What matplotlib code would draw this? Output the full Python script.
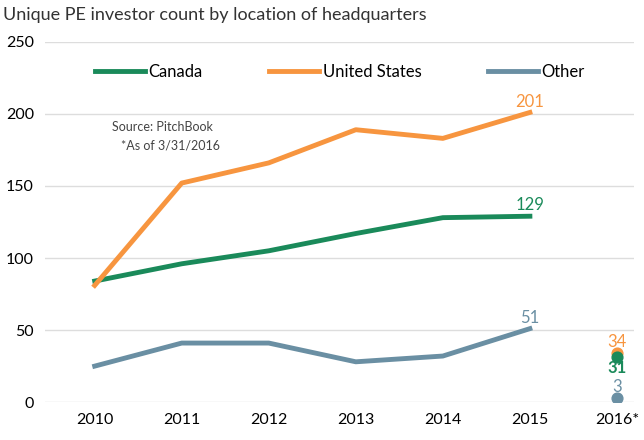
import matplotlib
matplotlib.use("Agg")
import matplotlib.pyplot as plt

years = [2010, 2011, 2012, 2013, 2014, 2015]
canada = [84, 96, 105, 117, 128, 129]
us = [81, 152, 166, 189, 183, 201]
other = [25, 41, 41, 28, 32, 51]
ytd_2016 = {"Canada": 31, "United States": 34, "Other": 3}
xlabels = ["2010", "2011", "2012", "2013", "2014", "2015", "2016*"]

cg, co, cb = "#1a8a5a", "#f7953f", "#6a8fa3"
plt.rcParams['font.family'] = ['Lato', 'DejaVu Sans']
fig = plt.figure(figsize=(6.44, 4.4), dpi=100)
ax = fig.add_axes([0.07, 0.086, 0.915, 0.819])
ax.plot(years, canada, color=cg, lw=3.5, label="Canada")
ax.plot(years, us, color=co, lw=3.5, label="United States")
ax.plot(years, other, color=cb, lw=3.5, label="Other")
ax.scatter([2016], [ytd_2016["United States"]], color=co, s=60, zorder=3)
ax.scatter([2016], [ytd_2016["Canada"]], color=cg, s=60, zorder=3)
ax.scatter([2016], [ytd_2016["Other"]], color=cb, s=60, zorder=3)
ax.text(2015, canada[-1] + 2, str(canada[-1]), color=cg, fontsize=12, ha="center", va="bottom")
ax.text(2015, us[-1] + 2, str(us[-1]), color=co, fontsize=12, ha="center", va="bottom")
ax.text(2015, other[-1] + 2, str(other[-1]), color=cb, fontsize=12, ha="center", va="bottom")
ax.text(2016, 36, str(ytd_2016["United States"]), color=co, fontsize=12, ha="center", va="bottom")
ax.text(2016, 29, str(ytd_2016["Canada"]), color=cg, fontsize=12, ha="center", va="top", fontweight="bold")
ax.text(2016, 5, str(ytd_2016["Other"]), color=cb, fontsize=12, ha="center", va="bottom")
ax.set_xlim(2009.43, 2016.2)
ax.set_ylim(0, 250)
ax.set_xticks(range(2010, 2017))
ax.set_xticklabels(xlabels, fontsize=11.5)
ax.set_yticks(range(0, 251, 50))
ax.tick_params(axis="y", labelsize=11.5, length=0, pad=8)
ax.tick_params(axis="x", length=0, pad=8)
ax.grid(axis="y", color="#dddddd", lw=1)
ax.set_axisbelow(True)
for s in ax.spines.values():
    s.set_visible(False)
ax.legend(loc="upper center", bbox_to_anchor=(0.5, 0.98), ncol=3, frameon=False,
          fontsize=12, handlelength=3, columnspacing=4, handletextpad=0.2)
ax.text(2010.2, 188, "Source: PitchBook", fontsize=9, color="#444444", ha="left")
ax.text(2010.3, 175, "*As of 3/31/2016", fontsize=9, color="#444444", ha="left")
fig.text(0.005, 0.985, "Unique PE investor count by location of headquarters", fontsize=13,
         color="#333333", va="top")
fig.savefig("out.png", dpi=100)
